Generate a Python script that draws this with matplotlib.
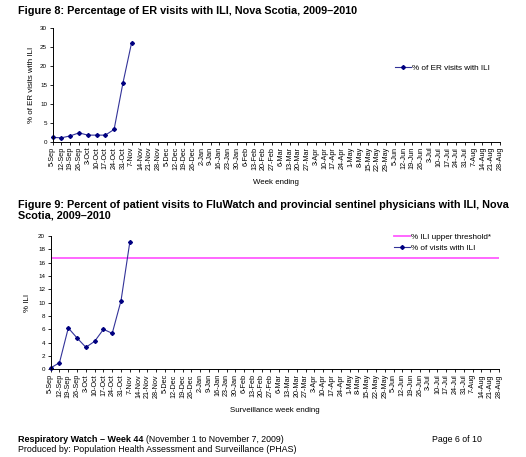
import matplotlib
matplotlib.use("Agg")
import matplotlib.pyplot as plt
from matplotlib.lines import Line2D

plt.rcParams['font.family'] = ['Liberation Sans', 'DejaVu Sans']

## Data

weeks = ["5-Sep", "12-Sep", "19-Sep", "26-Sep", "3-Oct", "10-Oct", "17-Oct", "24-Oct",
         "31-Oct", "7-Nov", "14-Nov", "21-Nov", "28-Nov", "5-Dec", "12-Dec", "19-Dec",
         "26-Dec", "2-Jan", "9-Jan", "16-Jan", "23-Jan", "30-Jan", "6-Feb", "13-Feb",
         "20-Feb", "27-Feb", "6-Mar", "13-Mar", "20-Mar", "27-Mar", "3-Apr", "10-Apr",
         "17-Apr", "24-Apr", "1-May", "8-May", "15-May", "22-May", "29-May", "5-Jun",
         "12-Jun", "19-Jun", "26-Jun", "3-Jul", "10-Jul", "17-Jul", "24-Jul", "31-Jul",
         "7-Aug", "14-Aug", "21-Aug", "28-Aug"]

er_ili = [1.2, 1.1, 1.6, 2.4, 1.8, 1.8, 1.8, 3.3, 15.4, 26.1]
visits_ili = [0.2, 1.0, 6.2, 4.7, 3.3, 4.2, 6.0, 5.4, 10.3, 19.1]
ili_threshold = 16.7

line_col = "#333399"
marker_col = "#000080"
pink = "#FF5CFF"

fig = plt.figure(figsize=(5.26, 4.57), dpi=100)


def style_axes(ax, ymax, ystep):
    ax.set_xlim(0, len(weeks) - 1)
    ax.set_ylim(0, ymax)
    ax.set_yticks(range(0, ymax + 1, ystep))
    ax.set_xticks(range(len(weeks)))
    ax.set_xticklabels(weeks, rotation=90, fontsize=5.2)
    ax.tick_params(axis='y', labelsize=4.5, length=2.5, width=0.6, pad=1.5)
    ax.tick_params(axis='x', length=2.5, width=0.6, pad=1)
    for s in ['top', 'right']:
        ax.spines[s].set_visible(False)
    for s in ['left', 'bottom']:
        ax.spines[s].set_linewidth(0.7)


## Figure 8

ax1 = fig.add_axes([0.1002, 0.6893, 0.8504, 0.2501])
ax1.plot(range(len(er_ili)), er_ili, color=line_col, linewidth=0.8,
         marker='D', markersize=2, markerfacecolor=marker_col, markeredgecolor=marker_col,
         clip_on=False)
style_axes(ax1, 30, 5)
ax1.set_xlabel("Week ending", fontsize=5.7, labelpad=6)
ax1.set_ylabel("% of ER visits with ILI", fontsize=5.7, labelpad=3.5)

fig.legend(handles=[Line2D([], [], color=line_col, linewidth=0.8, marker='D', markersize=2,
                           markerfacecolor=marker_col, markeredgecolor=marker_col)],
           labels=["% of ER visits with ILI"], loc='center left',
           bbox_to_anchor=(395 / 526, 1 - 68.3 / 457), frameon=False, fontsize=5.9,
           handlelength=1.9, handletextpad=0.2, borderpad=0, borderaxespad=0)

fig.text(18 / 526, 1 - 10.7 / 457, "Figure 8: Percentage of ER visits with ILI, Nova Scotia, 2009\u20132010",
         fontsize=7.8, fontweight='bold', va='center', ha='left')

## Figure 9

ax2 = fig.add_axes([0.0964, 0.1919, 0.8523, 0.2917])
ax2.axhline(ili_threshold, color=pink, linewidth=1.3)
ax2.plot(range(len(visits_ili)), visits_ili, color=line_col, linewidth=0.8,
         marker='D', markersize=2, markerfacecolor=marker_col, markeredgecolor=marker_col,
         clip_on=False)
style_axes(ax2, 20, 2)
ax2.set_xlabel("Surveillance week ending", fontsize=5.7, labelpad=6)
ax2.set_ylabel("% ILI", fontsize=5.7, labelpad=5)

fig.legend(handles=[Line2D([], [], color=pink, linewidth=1.3),
                    Line2D([], [], color=line_col, linewidth=0.8, marker='D', markersize=2,
                           markerfacecolor=marker_col, markeredgecolor=marker_col)],
           labels=["% ILI upper threshold*", "% of visits with ILI"], loc='center left',
           bbox_to_anchor=(394 / 526, 1 - 242.5 / 457), frameon=False, fontsize=5.9,
           handlelength=1.9, handletextpad=0.2, borderpad=0, borderaxespad=0,
           labelspacing=0.45)

fig.text(18 / 526, 1 - 204.5 / 457,
         "Figure 9: Percent of patient visits to FluWatch and provincial sentinel physicians with ILI, Nova",
         fontsize=7.8, fontweight='bold', va='center', ha='left')
fig.text(18 / 526, 1 - 216 / 457, "Scotia, 2009\u20132010",
         fontsize=7.8, fontweight='bold', va='center', ha='left')

## Footer

fig.text(18 / 526, 1 - 439 / 457, "Respiratory Watch \u2013 Week 44", fontsize=6.5,
         fontweight='bold', va='center', ha='left')
fig.text(146.5 / 526, 1 - 439 / 457, "(November 1 to November 7, 2009)", fontsize=6.3,
         va='center', ha='left')
fig.text(432.5 / 526, 1 - 439 / 457, "Page 6 of 10", fontsize=6.3, va='center', ha='left')
fig.text(18 / 526, 1 - 449 / 457, "Produced by: Population Health Assessment and Surveillance (PHAS)",
         fontsize=6.4, va='center', ha='left')

fig.savefig("out.png", dpi=100)
